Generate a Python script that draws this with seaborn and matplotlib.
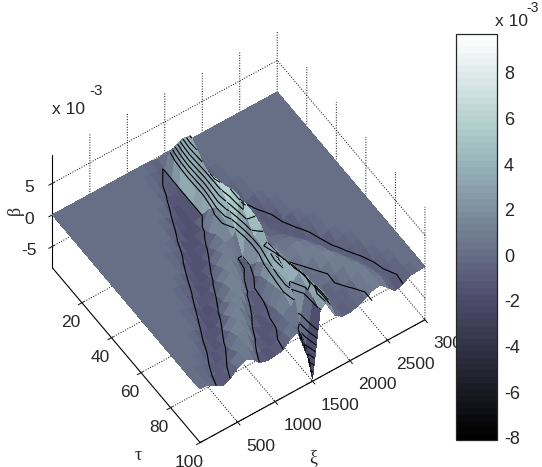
import warnings
import numpy as np
import seaborn as sns
import matplotlib
matplotlib.use('Agg')
import matplotlib.pyplot as plt
from matplotlib.cm import ScalarMappable
from matplotlib.colors import Normalize

warnings.filterwarnings('ignore')

# values, beta in units of 1e-3
tau = [0, 5, 10, 15, 20, 25, 30, 35, 40, 45, 50, 55, 60, 65, 70, 75, 80, 85, 90, 95, 100]
xi = [0, 100, 200, 300, 400, 500, 600, 700, 800, 900, 1000, 1100, 1200, 1300, 1400, 1450,
      1500, 1600, 1700, 1800, 1900, 2000, 2100, 2200, 2300, 2400, 2500, 2600, 2700, 2800, 2900, 3000]

beta_t0 = [0, 0, 0, 0, 0, 0, 0, 0, 0, 0, 0, 0, 0, 0, -0.3, -0.1, 0, 0, 0, 0, 0, 0, 0, 0, 0, 0, 0, 0, 0, 0, 0, 0]
beta_t5 = [0, 0, 0, 0, 0, 0, 0, 0, 0, 0, 0, 0, 0, -0.2, -1.0, 1.5, 0.8, 0.1, 0, 0, 0, 0, 0, 0, 0, 0, 0, 0, 0, 0, 0, 0]
beta_t10 = [0, 0, 0, 0, 0, 0, 0, 0, 0, 0, 0, 0, -0.2, -1.0, -1.1, 4.3, 2.0, 0.3, 0, 0, 0, 0, 0, 0, 0, 0, 0, 0, 0, 0, 0, 0]
beta_t15 = [0, 0, 0, 0, 0, 0, 0, 0, 0, 0, 0, 0, -0.6, -1.4, -1.0, 6.8, 3.2, 0.4, -0.2, 0, 0, 0, 0, 0, 0, 0, 0, 0, 0, 0, 0, 0]
beta_t20 = [0, 0, 0, 0, 0, 0, 0, 0, 0, 0, 0, -0.1, -1.2, -1.5, -1.0, 8.7, 4.0, 0.5, -0.9, -0.2, 0, 0, 0, 0, 0, 0, 0, 0, 0, 0, 0, 0]
beta_t25 = [0, 0, 0, 0, 0, 0, 0, 0, 0, 0, -0.1, -0.8, -1.6, -1.6, -1.0, 7.4, 4.6, 0.8, -0.9, -0.5, 0, 0, 0, 0, 0, 0, 0, 0, 0, 0, 0, 0]
beta_t30 = [0, 0, 0, 0, 0, 0, 0, 0, 0, 0, -0.3, -1.4, -1.7, -1.5, -1.0, 6.2, 5.0, 1.0, -0.5, -1.0, -0.2, 0, 0, 0, 0, 0, 0, 0, 0, 0, 0, 0]
beta_t35 = [0, 0, 0, 0, 0, 0, 0, 0, 0, -0.1, -1.0, -1.8, -1.7, -1.1, 1.5, 6.0, 5.6, 1.5, -0.2, -1.2, -0.7, 0, 0, 0, 0, 0, 0, 0, 0, 0, 0, 0]
beta_t40 = [0, 0, 0, 0, 0, 0, 0, 0, 0, -0.5, -1.5, -1.8, -1.2, -0.3, 3.0, 5.9, 6.0, 2.0, 0, -0.5, -1.3, -0.4, 0, 0, 0, 0, 0, 0, 0, 0, 0, 0]
beta_t45 = [0, 0, 0, 0, 0, 0, 0, 0, -0.3, -1.1, -1.8, -1.7, -0.6, 0.8, 2.6, 4.6, 6.8, 3.5, 0.5, -0.4, -0.9, -1.3, -0.2, 0, 0, 0, 0, 0, 0, 0, 0, 0]
beta_t50 = [0, 0, 0, 0, 0, 0, 0, -0.1, -0.8, -1.6, -1.8, -0.9, 0.3, 1.0, 1.2, 1.8, 7.0, 5.0, 1.0, -0.3, -0.6, -1.4, -0.7, 0, 0, 0, 0, 0, 0, 0, 0, 0]
beta_t55 = [0, 0, 0, 0, 0, 0, 0, -0.4, -1.3, -1.7, -1.2, 0.0, 1.2, 1.2, -0.9, -1.0, 5.0, 5.0, 0.5, -0.2, -0.3, -0.9, -1.4, -0.5, 0, 0, 0, 0, 0, 0, 0, 0]
beta_t60 = [0, 0, 0, 0, 0, 0, -0.3, -0.9, -1.7, -1.3, -0.5, 0.8, 1.6, 0.2, -1.1, -0.9, 3.5, 4.5, 0.2, 0.2, 0.4, 0.1, -0.8, -1.4, -0.3, 0, 0, 0, 0, 0, 0, 0]
beta_t65 = [0, 0, 0, 0, 0, -0.1, -0.6, -1.5, -1.6, -0.8, 0.5, 1.6, 0.8, -1.1, -0.9, 1.0, 3.3, 2.8, 1.5, 0.3, 0.7, 0.8, 0.3, -0.8, -0.8, -0.1, 0, 0, 0, 0, 0, 0]
beta_t70 = [0, 0, 0, 0, 0, -0.3, -1.1, -1.7, -1.0, -0.3, 1.0, 1.8, -0.7, -1.1, 0.5, 2.5, 3.8, 3.0, 1.5, 0.2, 0.9, 1.1, 0.9, 0.2, -1.3, -0.5, 0, 0, 0, 0, 0, 0]
beta_t75 = [0, 0, 0, 0, -0.1, -0.8, -1.5, -1.5, -0.4, 1.0, 1.8, -0.2, -1.3, -0.9, 1.0, 3.0, 4.4, 3.2, 2.0, 0.3, 0.2, 1.0, 1.2, 0.8, -0.1, -1.3, -0.2, 0, 0, 0, 0, 0]
beta_t80 = [0, 0, 0, 0, -0.5, -1.3, -1.6, -0.7, 0.8, 1.8, 0.2, -1.0, -1.5, -0.6, 1.5, 3.5, 4.0, 3.6, 2.5, 0.2, 0.1, 0.3, 1.1, 1.3, 0.7, -0.4, -1.2, -0.1, 0, 0, 0, 0]
beta_t85 = [0, 0, 0, -0.1, -0.9, -1.5, -1.0, 0.4, 1.6, 0.8, -0.9, -1.4, -1.1, 0.0, 2.0, 3.5, 3.0, 4.0, 3.0, 0.2, -0.2, -0.3, 0.4, 1.1, 1.1, 0.4, -0.7, -0.7, -0.1, 0, 0, 0]
beta_t90 = [0, 0, -0.1, -0.7, -1.4, -1.1, -0.4, 1.0, 1.6, -0.6, -1.2, -1.4, -0.9, 0.3, 1.3, 2.5, -3.0, 3.3, 3.0, 0.5, -0.4, -0.5, -0.3, 0.3, 1.0, 0.8, -0.1, -1.2, -0.3, 0, 0, 0]
beta_t95 = [0, 0, -0.4, -1.1, -1.2, -0.5, 0.6, 1.2, -0.4, -1.2, -1.3, -1.1, -0.2, 0.5, -0.5, -2.3, -4.0, 2.7, 3.4, 0.3, -0.6, -0.6, -0.4, 0.2, 0.9, 1.0, 0.3, -0.6, -1.0, -0.1, 0, 0]
beta_t100 = [0.1, 0.1, -0.7, -1.3, -0.8, 0.2, 0.8, 0.3, -0.9, -1.2, -1.1, -0.9, 0.2, 0.7, -2.9, -4.4, -8.0, 2.0, 3.5, 0.1, -0.7, -0.7, -0.4, 0.2, 0.8, 1.0, 0.0, -1.2, -0.8, -0.1, 0, 0]

beta_rows = [beta_t0, beta_t5, beta_t10, beta_t15, beta_t20, beta_t25, beta_t30, beta_t35, beta_t40, beta_t45, beta_t50,
             beta_t55, beta_t60, beta_t65, beta_t70, beta_t75, beta_t80, beta_t85, beta_t90, beta_t95, beta_t100]

# xi range of the right hand band per tau, no contour line is wanted on its far side
band_from = [3100, 3100, 3100, 3100, 1700, 1700, 1700, 1700, 1700, 1700, 1700,
             1700, 1700, 1800, 1900, 2000, 2100, 2100, 2200, 2300, 2300]
band_to = [0, 0, 0, 0, 1700, 1700, 1800, 1800, 1900, 2000, 2000,
           2100, 2200, 2300, 2300, 2400, 2500, 2600, 2600, 2700, 2700]
contour_levels = [-7, -6, -5, -4, -3, -2, -0.8, 2.2, 3.1, 4.0, 4.9, 5.8, 6.7, 7.6, 8.5]

sns.set_style('white')
plt.rcParams['font.family'] = ['Liberation Sans', 'DejaVu Sans']
plt.rcParams['font.size'] = 12.5
plt.rcParams['axes.unicode_minus'] = False
plt.rcParams['contour.negative_linestyle'] = 'solid'
plt.rcParams['grid.color'] = 'black'
plt.rcParams['grid.linestyle'] = ':'
plt.rcParams['grid.linewidth'] = 0.7

cmap = sns.color_palette('bone', as_cmap=True).resampled(64)
norm = Normalize(-8.1, 9.7)

T, X = np.meshgrid(tau, xi, indexing='ij')
B = np.array(beta_rows)

# heights used for the contour lines only
C = B.copy()
for i in range(len(tau)):
    in_band = (X[i] >= band_from[i]) & (X[i] <= band_to[i])
    C[i, in_band] = np.minimum(C[i, in_band], -0.85)

fig = plt.figure(figsize=(5.42, 4.67), dpi=100)
ax = fig.add_axes([23 / 542, 14 / 467, 420 / 542, 420 / 467], projection='3d', computed_zorder=False)
ax.set_proj_type('ortho')
ax.view_init(elev=53.5, azim=-34.2)
ax.set_box_aspect((263, 272, 190), zoom=0.978)
ax.set_xlim(0, 100, view_margin=0)
ax.set_ylim(0, 3000, view_margin=0)
ax.set_zlim(-8.4, 9.5, view_margin=0)

# strips from far to near so the ridge hides what lies behind it
# the lines of a strip go above the next strip too, it would cut them otherwise,
# but not on the back of the ridge
z = 1
for j in range(len(xi) - 2, -1, -1):
    lift = 1 if 1450 <= xi[j] < 1700 else 3
    ax.plot_surface(T[:, j:j + 2], X[:, j:j + 2], B[:, j:j + 2], rstride=1, cstride=1, cmap=cmap, norm=norm,
                    linewidth=0, antialiased=False, shade=False, zorder=z)
    ax.contour(T[:, j:j + 2], X[:, j:j + 2], C[:, j:j + 2], levels=contour_levels, colors='black',
               linewidths=0.8, zorder=z + lift)
    z += 2

for axis in [ax.xaxis, ax.yaxis, ax.zaxis]:
    axis.set_pane_color((1, 1, 1, 0))
    axis.pane.set_edgecolor('none')
    axis.line.set_color('black')
    axis.line.set_linewidth(0.8)

ax.set_xticks([20, 40, 60, 80, 100])
ax.set_yticks([500, 1000, 1500, 2000, 2500, 3000])
ax.set_zticks([-5, 0, 5])
ax.zaxis.set_ticks_position('lower')
ax.tick_params(axis='x', pad=0)
ax.tick_params(axis='y', pad=1)
ax.tick_params(axis='z', pad=2)
for label in ax.yaxis.get_ticklabels():
    label.set_ha('left')

fig.text(138 / 542, 1 - 455 / 467, '\u03c4', family='Liberation Serif', fontsize=13, ha='center', va='center')
fig.text(313 / 542, 1 - 458 / 467, '\u03be', family='Liberation Serif', fontsize=13, ha='center', va='center')
fig.text(15 / 542, 1 - 210 / 467, '\u03b2', family='Liberation Serif', fontsize=13, rotation=90, ha='center', va='center')
fig.text(52 / 542, 1 - 110 / 467, 'x 10', ha='left', va='center')
fig.text(89 / 542, 1 - 91 / 467, '-3', ha='left', va='center', fontsize=11)

cax = fig.add_axes([456 / 542, 27 / 467, 41 / 542, 406 / 467], zorder=5)
cb = fig.colorbar(ScalarMappable(norm=norm, cmap=cmap), cax=cax)
cb.set_ticks([-8, -6, -4, -2, 0, 2, 4, 6, 8])
cb.outline.set_linewidth(0.9)
cax.tick_params(direction='in', left=True, right=True, length=4, width=0.8, labelsize=13, pad=5)
fig.text(495 / 542, 1 - 22 / 467, 'x 10', ha='left', va='center')
fig.text(526 / 542, 1 - 8 / 467, '-3', ha='left', va='center', fontsize=10)

fig.savefig('out.png', dpi=100)
